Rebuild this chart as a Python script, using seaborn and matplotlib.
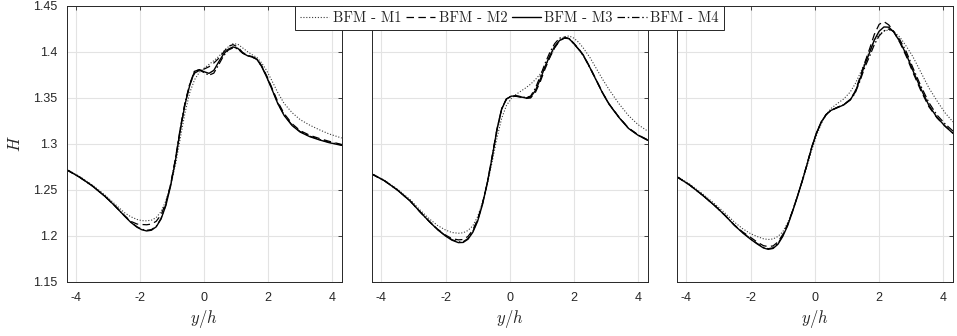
import numpy as np
import pandas as pd
import matplotlib
matplotlib.use("Agg")
import matplotlib.pyplot as plt
import seaborn as sns

# ---------------- data ----------------
models = ["BFM - M1", "BFM - M2", "BFM - M3", "BFM - M4"]

x1 = [-4.3, -3.9, -3.5, -3.1, -2.8, -2.5, -2.3, -2.1, -1.95, -1.8, -1.65, -1.5, -1.35, -1.2, -1.05,
      -0.9, -0.75, -0.6, -0.45, -0.3, -0.15, 0.0, 0.15, 0.3, 0.45, 0.6, 0.75, 0.9, 1.05, 1.2,
      1.35, 1.5, 1.65, 1.8, 1.95, 2.1, 2.3, 2.5, 2.75, 3.0, 3.3, 3.6, 3.9, 4.3]
p1_m1 = [1.2725, 1.2648, 1.2555, 1.2445, 1.2350, 1.2255, 1.2210, 1.2180, 1.2167, 1.2165, 1.2172, 1.2200, 1.2265, 1.2380, 1.2550,
         1.2770, 1.3060, 1.3340, 1.3560, 1.3700, 1.3780, 1.3825, 1.3865, 1.3905, 1.3950, 1.4005, 1.4055, 1.4090, 1.4085, 1.4045,
         1.4005, 1.3970, 1.3940, 1.3880, 1.3800, 1.3700, 1.3560, 1.3440, 1.3340, 1.3265, 1.3205, 1.3155, 1.3110, 1.3065]
p1_m2 = [1.2720, 1.2640, 1.2545, 1.2430, 1.2330, 1.2225, 1.2160, 1.2130, 1.2125, 1.2122, 1.2130, 1.2160, 1.2230, 1.2360, 1.2560,
         1.2830, 1.3150, 1.3440, 1.3650, 1.3770, 1.3800, 1.3815, 1.3840, 1.3880, 1.3930, 1.3995, 1.4060, 1.4080, 1.4055, 1.3995,
         1.3965, 1.3950, 1.3925, 1.3850, 1.3745, 1.3625, 1.3460, 1.3330, 1.3220, 1.3145, 1.3095, 1.3060, 1.3030, 1.2995]
p1_m3 = [1.2720, 1.2640, 1.2545, 1.2430, 1.2330, 1.2220, 1.2150, 1.2095, 1.2068, 1.2055, 1.2063, 1.2100, 1.2185, 1.2330, 1.2545,
         1.2820, 1.3150, 1.3430, 1.3640, 1.3790, 1.3808, 1.3785, 1.3768, 1.3800, 1.3890, 1.3975, 1.4030, 1.4055, 1.4040, 1.3990,
         1.3960, 1.3945, 1.3920, 1.3840, 1.3730, 1.3610, 1.3440, 1.3310, 1.3200, 1.3130, 1.3080, 1.3045, 1.3015, 1.2985]
p1_m4 = [1.2720, 1.2640, 1.2545, 1.2430, 1.2330, 1.2222, 1.2153, 1.2100, 1.2073, 1.2062, 1.2070, 1.2105, 1.2190, 1.2340, 1.2560,
         1.2840, 1.3170, 1.3450, 1.3655, 1.3795, 1.3805, 1.3775, 1.3748, 1.3770, 1.3860, 1.3955, 1.4020, 1.4045, 1.4035, 1.3988,
         1.3960, 1.3945, 1.3920, 1.3842, 1.3735, 1.3615, 1.3445, 1.3315, 1.3205, 1.3135, 1.3085, 1.3050, 1.3020, 1.2990]

x2 = [-4.3, -3.9, -3.5, -3.1, -2.8, -2.5, -2.25, -2.0, -1.8, -1.6, -1.45, -1.3, -1.15, -1.0, -0.85,
      -0.7, -0.55, -0.4, -0.25, -0.1, 0.05, 0.2, 0.35, 0.5, 0.65, 0.8, 0.95, 1.1, 1.25, 1.4,
      1.55, 1.7, 1.85, 2.0, 2.15, 2.3, 2.5, 2.7, 2.9, 3.1, 3.4, 3.7, 4.0, 4.3]
p2_m1 = [1.2680, 1.2605, 1.2510, 1.2395, 1.2285, 1.2185, 1.2115, 1.2065, 1.2038, 1.2030, 1.2035, 1.2060, 1.2110, 1.2210, 1.2360,
         1.2560, 1.2800, 1.3060, 1.3280, 1.3420, 1.3495, 1.3540, 1.3575, 1.3610, 1.3650, 1.3700, 1.3760, 1.3840, 1.3940, 1.4040,
         1.4120, 1.4165, 1.4175, 1.4150, 1.4105, 1.4040, 1.3940, 1.3820, 1.3700, 1.3590, 1.3440, 1.3310, 1.3210, 1.3140]
p2_m2 = [1.2675, 1.2600, 1.2500, 1.2380, 1.2265, 1.2157, 1.2075, 1.2010, 1.1972, 1.1958, 1.1962, 1.1995, 1.2065, 1.2180, 1.2350,
         1.2575, 1.2850, 1.3150, 1.3380, 1.3490, 1.3518, 1.3518, 1.3508, 1.3495, 1.3500, 1.3560, 1.3675, 1.3815, 1.3940, 1.4045,
         1.4120, 1.4150, 1.4148, 1.4095, 1.4035, 1.3965, 1.3835, 1.3695, 1.3555, 1.3435, 1.3295, 1.3175, 1.3100, 1.3045]
p2_m3 = [1.2675, 1.2600, 1.2500, 1.2380, 1.2265, 1.2155, 1.2070, 1.2000, 1.1955, 1.1928, 1.1930, 1.1965, 1.2040, 1.2160, 1.2340,
         1.2570, 1.2850, 1.3150, 1.3380, 1.3490, 1.3520, 1.3522, 1.3512, 1.3500, 1.3510, 1.3580, 1.3700, 1.3840, 1.3960, 1.4060,
         1.4125, 1.4152, 1.4145, 1.4090, 1.4030, 1.3960, 1.3830, 1.3690, 1.3550, 1.3430, 1.3290, 1.3170, 1.3095, 1.3040]
p2_m4 = [1.2675, 1.2600, 1.2500, 1.2380, 1.2265, 1.2155, 1.2072, 1.2003, 1.1960, 1.1935, 1.1938, 1.1972, 1.2048, 1.2170, 1.2350,
         1.2580, 1.2860, 1.3160, 1.3385, 1.3492, 1.3522, 1.3525, 1.3515, 1.3505, 1.3520, 1.3605, 1.3735, 1.3875, 1.3995, 1.4090,
         1.4150, 1.4162, 1.4145, 1.4088, 1.4028, 1.3958, 1.3828, 1.3690, 1.3552, 1.3432, 1.3292, 1.3172, 1.3098, 1.3042]

x3 = [-4.3, -3.9, -3.5, -3.1, -2.8, -2.5, -2.25, -2.0, -1.8, -1.6, -1.45, -1.3, -1.15, -1.0, -0.85,
      -0.7, -0.55, -0.4, -0.25, -0.1, 0.05, 0.2, 0.35, 0.5, 0.7, 0.9, 1.1, 1.25, 1.4, 1.55,
      1.7, 1.85, 2.0, 2.15, 2.3, 2.45, 2.65, 2.85, 3.05, 3.3, 3.55, 3.8, 4.05, 4.3]
p3_m1 = [1.2650, 1.2565, 1.2460, 1.2345, 1.2250, 1.2150, 1.2080, 1.2025, 1.1995, 1.1970, 1.1962, 1.1968, 1.1995, 1.2045, 1.2140,
         1.2270, 1.2420, 1.2580, 1.2750, 1.2930, 1.3090, 1.3220, 1.3320, 1.3385, 1.3440, 1.3490, 1.3565, 1.3650, 1.3760, 1.3880,
         1.4010, 1.4120, 1.4190, 1.4225, 1.4240, 1.4225, 1.4160, 1.4060, 1.3950, 1.3780, 1.3610, 1.3470, 1.3340, 1.3240]
p3_m2 = [1.2645, 1.2555, 1.2445, 1.2325, 1.2225, 1.2118, 1.2045, 1.1985, 1.1935, 1.1895, 1.1885, 1.1892, 1.1935, 1.2015, 1.2125,
         1.2268, 1.2425, 1.2592, 1.2772, 1.2962, 1.3120, 1.3240, 1.3320, 1.3365, 1.3398, 1.3428, 1.3485, 1.3570, 1.3720, 1.3880,
         1.4030, 1.4190, 1.4300, 1.4330, 1.4295, 1.4225, 1.4100, 1.3950, 1.3780, 1.3580, 1.3405, 1.3285, 1.3195, 1.3120]
p3_m3 = [1.2645, 1.2555, 1.2445, 1.2325, 1.2225, 1.2115, 1.2035, 1.1965, 1.1915, 1.1870, 1.1855, 1.1865, 1.1910, 1.1995, 1.2110,
         1.2260, 1.2420, 1.2590, 1.2770, 1.2960, 1.3120, 1.3240, 1.3320, 1.3365, 1.3395, 1.3425, 1.3480, 1.3560, 1.3700, 1.3860,
         1.3990, 1.4130, 1.4225, 1.4272, 1.4270, 1.4220, 1.4110, 1.3970, 1.3800, 1.3600, 1.3420, 1.3290, 1.3195, 1.3115]
p3_m4 = [1.2645, 1.2555, 1.2445, 1.2325, 1.2225, 1.2116, 1.2038, 1.1970, 1.1920, 1.1876, 1.1862, 1.1872, 1.1918, 1.2003, 1.2118,
         1.2265, 1.2425, 1.2592, 1.2770, 1.2958, 1.3115, 1.3235, 1.3318, 1.3365, 1.3398, 1.3428, 1.3478, 1.3550, 1.3680, 1.3830,
         1.3950, 1.4080, 1.4175, 1.4230, 1.4250, 1.4225, 1.4130, 1.4000, 1.3830, 1.3630, 1.3450, 1.3315, 1.3220, 1.3140]

panels = [(x1, [p1_m1, p1_m2, p1_m3, p1_m4]),
          (x2, [p2_m1, p2_m2, p2_m3, p2_m4]),
          (x3, [p3_m1, p3_m2, p3_m3, p3_m4])]

xticks = [-4, -2, 0, 2, 4]
xtick_labels = ["-4", "-2", "0", "2", "4"]
yticks = [1.15, 1.2, 1.25, 1.3, 1.35, 1.4, 1.45]
ytick_labels = ["1.15", "1.2", "1.25", "1.3", "1.35", "1.4", "1.45"]

# ---------------- styling ----------------
sns.set_style("white")
plt.rcParams["font.family"] = ["Liberation Sans", "DejaVu Sans"]
plt.rcParams["mathtext.fontset"] = "cm"
plt.rcParams["axes.unicode_minus"] = False

styles = {
    "BFM - M1": dict(linestyle=(0, (1, 1.6)), linewidth=0.8, color="#3a3a3a"),
    "BFM - M2": dict(linestyle=(0, (6, 3.5)), linewidth=0.9, color="black"),
    "BFM - M3": dict(linestyle="-", linewidth=1.0, color="black"),
    "BFM - M4": dict(linestyle=(0, (6, 2.2, 1.2, 2.2)), linewidth=0.9, color="black"),
}

W, H = 957, 336
fig = plt.figure(figsize=(W / 100, H / 100), dpi=100)
lefts = [66.7, 371.7, 676.7]
widths = [275.0, 276.0, 276.3]
bottom = 1 - 282 / H
height = (282 - 6) / H

axes = []
for i, (xs, series) in enumerate(panels):
    ax = fig.add_axes([lefts[i] / W, bottom, widths[i] / W, height])
    axes.append(ax)
    for name, ys in zip(models, series):
        df = pd.DataFrame({"y/h": xs, "H": ys})
        st = styles[name]
        sns.lineplot(data=df, x="y/h", y="H", ax=ax, sort=False, estimator=None,
                     color=st["color"], linewidth=st["linewidth"], label=name)
        ax.lines[-1].set_linestyle(st["linestyle"])
    ax.set_xlim(-4.3, 4.3)
    ax.set_ylim(1.15, 1.45)
    ax.set_xticks(xticks)
    ax.set_xticklabels(xtick_labels)
    ax.set_yticks(yticks)
    if i == 0:
        ax.set_yticklabels(ytick_labels)
        ax.set_ylabel("$H$", fontsize=12, labelpad=7)
    else:
        ax.set_yticklabels([])
        ax.set_ylabel("")
    ax.set_xlabel("$y/h$", fontsize=12, labelpad=3)
    ax.grid(True, color="#e3e3e3", linewidth=0.8)
    ax.set_axisbelow(True)
    ax.tick_params(direction="in", length=3, width=0.6, colors="#262626",
                   labelsize=9, labelcolor="#262626", top=True, right=True, pad=7)
    for sp in ax.spines.values():
        sp.set_visible(True)
        sp.set_color("#262626")
        sp.set_linewidth(0.7)
    if ax.get_legend() is not None:
        ax.get_legend().remove()

handles, labels = axes[0].get_legend_handles_labels()
leg = fig.legend(handles, labels,
                 loc="upper center", bbox_to_anchor=(509.5 / W, 1 - 6.5 / H), ncol=4,
                 frameon=True, fancybox=False, framealpha=1, edgecolor="#262626",
                 handlelength=2.0, handletextpad=0.25, columnspacing=0.3,
                 borderpad=0.35, borderaxespad=0,
                 prop={"family": "cmr10", "size": 10.5})
leg.get_frame().set_linewidth(0.7)
leg.set_zorder(10)

fig.savefig("out.png", dpi=100)
